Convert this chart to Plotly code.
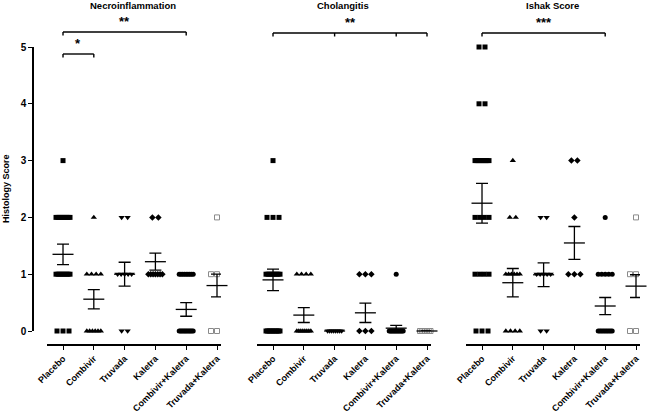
import plotly.graph_objects as go

# ---------------- data ----------------
groups = ["Placebo", "Combivir", "Truvada", "Kaletra", "Combivir+Kaletra", "Truvada+Kaletra"]
score_levels = [0, 1, 2, 3, 4, 5]
panel_titles = ["Necroinflammation", "Cholangitis", "Ishak Score"]

# number of animals at each score level (0..5), per group
necro_placebo = [3, 8, 8, 1, 0, 0]
necro_combivir = [6, 4, 1, 0, 0, 0]
necro_truvada = [2, 5, 2, 0, 0, 0]
necro_kaletra = [0, 7, 2, 0, 0, 0]
necro_comb_kal = [12, 9, 0, 0, 0, 0]
necro_truv_kal = [3, 3, 1, 0, 0, 0]

chol_placebo = [10, 8, 3, 1, 0, 0]
chol_combivir = [8, 4, 0, 0, 0, 0]
chol_truvada = [8, 0, 0, 0, 0, 0]
chol_kaletra = [3, 3, 0, 0, 0, 0]
chol_comb_kal = [14, 1, 0, 0, 0, 0]
chol_truv_kal = [9, 0, 0, 0, 0, 0]

ishak_placebo = [3, 4, 4, 8, 2, 2]
ishak_combivir = [4, 6, 2, 1, 0, 0]
ishak_truvada = [2, 5, 2, 0, 0, 0]
ishak_kaletra = [0, 3, 1, 2, 0, 0]
ishak_comb_kal = [10, 5, 1, 0, 0, 0]
ishak_truv_kal = [3, 3, 1, 0, 0, 0]

# mean and SEM
necro_mean = [1.35, 0.56, 1.00, 1.22, 0.38, 0.80]
necro_sem = [0.18, 0.17, 0.21, 0.15, 0.12, 0.20]
chol_mean = [0.90, 0.28, 0.00, 0.32, 0.05, 0.00]
chol_sem = [0.19, 0.13, 0.00, 0.17, 0.05, 0.00]
ishak_mean = [2.25, 0.85, 0.99, 1.55, 0.44, 0.79]
ishak_sem = [0.35, 0.25, 0.21, 0.29, 0.15, 0.20]

# significance brackets: group indices compared, and label
sig_necro_1 = [0, 1]
sig_necro_2 = [0, 4]
sig_chol = [0, 2, 4, 5]
sig_ishak = [0, 4]
sig_labels = ["*", "**", "**", "***"]

panel_counts = [
    [necro_placebo, necro_combivir, necro_truvada, necro_kaletra, necro_comb_kal, necro_truv_kal],
    [chol_placebo, chol_combivir, chol_truvada, chol_kaletra, chol_comb_kal, chol_truv_kal],
    [ishak_placebo, ishak_combivir, ishak_truvada, ishak_kaletra, ishak_comb_kal, ishak_truv_kal],
]
panel_means = [necro_mean, chol_mean, ishak_mean]
panel_sems = [necro_sem, chol_sem, ishak_sem]

# ---------------- styling / layout ----------------
W, H = 651, 412
FONT = "Liberation Sans, Arial, sans-serif"
symbols = ["square", "triangle-up", "triangle-down", "diamond", "circle", "square-open"]
sizes = [5, 5.5, 5.5, 5, 5, 5]
colors = ["black", "black", "black", "black", "black", "#8a8a8a"]

px_per_cat = 30.8
xdom_px = [(47, 221), (257, 431), (466, 640)]
xrange_ = [-0.52, 5.13]
y0_px, y5_px = 331, 47
xaxis_y_px = 345


def px2x(p):
    return p / W


def px2y(p):
    return 1 - p / H


fig = go.Figure()

for pi in range(3):
    xa = "x" if pi == 0 else f"x{pi+1}"
    ya = "y" if pi == 0 else f"y{pi+1}"
    for gi, counts in enumerate(panel_counts[pi]):
        xs, ys = [], []
        for lvl, n in zip(score_levels, counts):
            if n == 0:
                continue
            step = min(6.0, 14.0 / (n - 1)) if n > 1 else 0
            for k in range(n):
                xs.append(gi + (k - (n - 1) / 2) * step / px_per_cat)
                ys.append(lvl)
        fig.add_trace(go.Scatter(
            x=xs, y=ys, mode="markers", xaxis=xa, yaxis=ya, cliponaxis=False,
            marker=dict(symbol=symbols[gi], size=sizes[gi], color=colors[gi],
                        line=dict(width=1 if gi == 5 else 0, color=colors[gi])),
            showlegend=False, hoverinfo="skip"))
    fig.add_trace(go.Scatter(
        x=list(range(len(groups))), y=panel_means[pi], mode="markers",
        xaxis=xa, yaxis=ya, cliponaxis=False,
        marker=dict(symbol="line-ew", size=15, color="black",
                    line=dict(width=1.3, color="black")),
        error_y=dict(type="data", array=panel_sems[pi], visible=True,
                     width=6, thickness=1.3, color="black"),
        showlegend=False, hoverinfo="skip"))

layout = dict(
    template="none",
    width=W, height=H, margin=dict(l=0, r=0, t=0, b=0, pad=0, autoexpand=False),
    paper_bgcolor="white", plot_bgcolor="white",
    font=dict(family=FONT, color="black"),
    showlegend=False,
)
ydom = [px2y(y0_px), px2y(y5_px)]
for pi in range(3):
    sx = "" if pi == 0 else str(pi + 1)
    layout["xaxis" + sx] = dict(
        domain=[px2x(xdom_px[pi][0]), px2x(xdom_px[pi][1])],
        range=xrange_, anchor="free", position=px2y(xaxis_y_px), automargin=False,
        showgrid=False, zeroline=False, showline=True, linecolor="black", linewidth=1.6,
        ticks="outside", ticklen=4, tickwidth=1.3, tickcolor="black",
        tickvals=list(range(len(groups))), ticktext=[f"<b>{g}</b>" for g in groups],
        tickangle=-45, tickfont=dict(size=9, family=FONT),
    )
    ycfg = dict(domain=ydom, range=[0, 5], showgrid=False, zeroline=False, automargin=False)
    if pi == 0:
        ycfg.update(anchor="free", position=px2x(33), showline=True, linecolor="black",
                    linewidth=1.6, ticks="outside", ticklen=4, tickwidth=1.3, tickcolor="black",
                    tickvals=score_levels, ticktext=[f"<b>{v}</b>" for v in score_levels],
                    tickfont=dict(size=10, family=FONT))
    else:
        ycfg.update(anchor="x" + sx, visible=False)
    layout["yaxis" + sx] = ycfg

annotations = []
title_x_px = [133, 343, 552]
for pi, t in enumerate(panel_titles):
    annotations.append(dict(text=f"<b>{t}</b>", x=px2x(title_x_px[pi]), y=px2y(6),
                            xref="paper", yref="paper", showarrow=False,
                            font=dict(size=9.5, family=FONT), xanchor="center", yanchor="middle"))
annotations.append(dict(text="<b>Histology Score</b>", x=px2x(6), y=px2y(189),
                        xref="paper", yref="paper", showarrow=False, textangle=-90,
                        font=dict(size=9, family=FONT), xanchor="center", yanchor="middle"))

shapes = []
brackets = [(0, sig_necro_1, 54), (0, sig_necro_2, 32), (1, sig_chol, 33), (2, sig_ishak, 33)]
for (pi, idx, ypx), lab in zip(brackets, sig_labels):
    xr = "x" if pi == 0 else f"x{pi+1}"
    yb = px2y(ypx)
    shapes.append(dict(type="line", xref=xr, yref="paper", x0=idx[0], x1=idx[-1], y0=yb, y1=yb,
                       line=dict(color="black", width=1.4)))
    for g in idx:
        shapes.append(dict(type="line", xref=xr, yref="paper", x0=g, x1=g, y0=yb, y1=px2y(ypx + 3.5),
                           line=dict(color="black", width=1.4)))
    annotations.append(dict(text=f"<b>{lab}</b>", x=(idx[0] + idx[-1]) / 2, y=px2y(ypx - 1),
                            xref=xr, yref="paper", showarrow=False, xanchor="center", yanchor="bottom",
                            font=dict(size=13, family=FONT)))

layout["annotations"] = annotations
layout["shapes"] = shapes
fig.update_layout(**layout)
fig.write_html("out.html", config={"displayModeBar": False},
               post_script="document.body.style.margin='0px';")
